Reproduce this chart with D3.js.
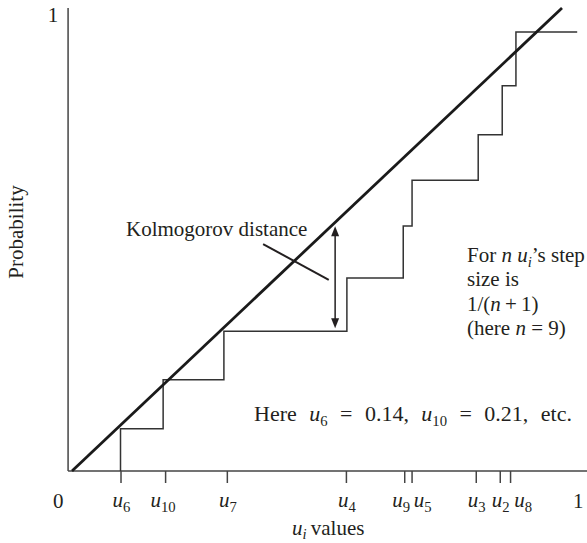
<!DOCTYPE html>
<html><head><meta charset="utf-8">
<script src="https://cdn.jsdelivr.net/npm/d3@7"></script>
<style>
html,body{margin:0;padding:0;background:#fff;}
svg text{font-family:"Liberation Serif","Times New Roman",serif;fill:#231f20;}
</style></head>
<body><svg id="c" width="587" height="543"></svg>
<script>
// ---- data ----
const tickNames = ["6","10","7","4","9","5","3","2","8"];
const tickU     = [0.099, 0.190, 0.316, 0.559, 0.678, 0.693, 0.824, 0.873, 0.894];
const stepU     = [0.099, 0.186, 0.310, 0.561, 0.676, 0.694, 0.829, 0.878, 0.906];
const stepLevel = [0.091, 0.197, 0.302, 0.417, 0.529, 0.628, 0.726, 0.832, 0.948];
const stepEnd   = 1.031;
const diagonal  = [[0,0],[1,1]];
const kdX = 0.537, kdTop = 0.537, kdBottom = 0.302;
const leader = [[0.390,0.490],[0.524,0.413]];

const svg = d3.select("#c");
const xs = d3.scaleLinear().domain([0,1]).range([72,562]);
const ys = d3.scaleLinear().domain([0,1]).range([471,8]);
const FS = 21;

// axes lines
const axX0 = xs(-0.008);
svg.append("line").attr("x1",axX0).attr("x2",axX0).attr("y1",ys(0)).attr("y2",ys(1))
  .attr("stroke","#444").attr("stroke-width",1.5);
svg.append("line").attr("x1",axX0).attr("x2",xs(1.052)).attr("y1",ys(0)).attr("y2",ys(0))
  .attr("stroke","#444").attr("stroke-width",1.5);

// ticks via d3 axis
const ax = svg.append("g").attr("transform",`translate(0,${ys(0)})`)
  .call(d3.axisBottom(xs).tickValues(tickU).tickSize(12).tickFormat(""));
ax.select(".domain").remove();
ax.selectAll(".tick line").attr("stroke","#444").attr("stroke-width",1.5);

function rich(sel, parts, shift){
  shift = shift===undefined?5:shift;
  let shifted = false;
  parts.forEach(p=>{
    const t = sel.append("tspan").text(p.t);
    if(p.it) t.attr("font-style","italic");
    if(p.sub){ t.attr("font-size", FS*0.7).attr("dy", shifted?0:shift); shifted = true; }
    else if(shifted){ t.attr("dy",-shift); shifted = false; }
  });
  return sel;
}

// tick labels
const labelShift = {"5":11, "8":13, "9":-3, "10":-2};
tickNames.forEach((n,i)=>{
  const t = svg.append("text").attr("x", xs(tickU[i]) + (labelShift[n]||1))
    .attr("y", 507).attr("text-anchor","middle").attr("font-size",FS);
  rich(t,[{t:"u",it:true},{t:n,sub:true}]);
});
svg.append("text").attr("x",xs(-0.028)).attr("y",508).attr("text-anchor","middle").attr("font-size",FS).text("0");
svg.append("text").attr("x",xs(1.033)).attr("y",508).attr("text-anchor","middle").attr("font-size",FS).text("1");
svg.append("text").attr("x",53).attr("y",ys(1)+14).attr("text-anchor","middle").attr("font-size",FS).text("1");

// axis titles
rich(svg.append("text").attr("x",292).attr("y",535).attr("font-size",FS),
  [{t:"u",it:true},{t:"i",it:true,sub:true},{t:"\u2009values"}], 3.5);
svg.append("text").attr("transform","translate(23,232) rotate(-90)").attr("text-anchor","middle")
  .attr("font-size",FS).text("Probability");

// step function
const pts = [[stepU[0],0]];
stepU.forEach((u,i)=>{
  pts.push([u, stepLevel[i]]);
  pts.push([i<stepU.length-1?stepU[i+1]:stepEnd, stepLevel[i]]);
});
svg.append("path").attr("d", d3.line().x(d=>xs(d[0])).y(d=>ys(d[1]))(pts))
  .attr("fill","none").attr("stroke","#333").attr("stroke-width",1.5);

// diagonal
svg.append("path").attr("d", d3.line().x(d=>xs(d[0])).y(d=>ys(d[1]))(diagonal))
  .attr("fill","none").attr("stroke","#1a1a1a").attr("stroke-width",2.8);

// Kolmogorov distance arrow
const ax0 = xs(kdX), yT = ys(kdTop)+4, yB = ys(kdBottom)-3;
svg.append("line").attr("x1",ax0).attr("x2",ax0).attr("y1",yT+6).attr("y2",yB-6)
  .attr("stroke","#231f20").attr("stroke-width",1.5);
svg.append("path").attr("d",`M${ax0},${yT} L${ax0-4},${yT+10} L${ax0+4},${yT+10} Z`).attr("fill","#231f20");
svg.append("path").attr("d",`M${ax0},${yB} L${ax0-4},${yB-10} L${ax0+4},${yB-10} Z`).attr("fill","#231f20");
svg.append("line").attr("x1",xs(leader[0][0])).attr("y1",ys(leader[0][1]))
  .attr("x2",xs(leader[1][0])).attr("y2",ys(leader[1][1]))
  .attr("stroke","#231f20").attr("stroke-width",2);
svg.append("text").attr("x",126).attr("y",236).attr("font-size",FS).text("Kolmogorov distance");

// right annotation
const rx = 467;
rich(svg.append("text").attr("x",rx).attr("y",262).attr("font-size",FS),
  [{t:"For "},{t:"n",it:true},{t:" "},{t:"u",it:true},{t:"i",it:true,sub:true},{t:"\u2019s step"}]);
svg.append("text").attr("x",rx).attr("y",286).attr("font-size",FS).text("size is");
rich(svg.append("text").attr("x",rx).attr("y",311).attr("font-size",FS),
  [{t:"1/("},{t:"n",it:true},{t:"\u2009+\u20091)"}]);
rich(svg.append("text").attr("x",rx).attr("y",335).attr("font-size",FS),
  [{t:"(here "},{t:"n",it:true},{t:" = 9)"}]);

// bottom note, spread to reference width
const note = rich(svg.append("text").attr("x",254).attr("y",421).attr("font-size",22),
  [{t:"Here "},{t:"u",it:true},{t:"6",sub:true},{t:" = 0.14, "},{t:"u",it:true},{t:"10",sub:true},{t:" = 0.21, etc."}]);
const w = note.node().getComputedTextLength();
const target = 572 - 254;
if (w < target) note.attr("word-spacing", ((target - w) / 7).toFixed(2));
</script></body></html>
